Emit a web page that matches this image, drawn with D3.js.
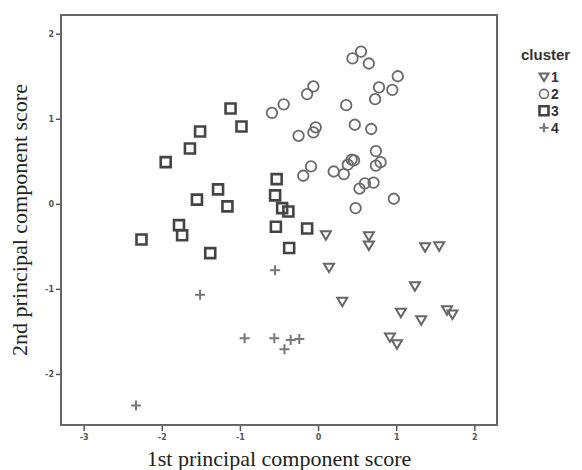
<!DOCTYPE html>
<meta charset="utf-8">
<style>
  body { margin: 0; background: #fff; }
  .tick text { font-family: "DejaVu Sans", sans-serif; font-size: 8px; font-weight: bold; fill: #555; }
  .tick line { stroke: #555; stroke-width: 1.5; }
  .axis .domain { display: none; }
</style>
<body>
<script src="https://d3js.org/d3.v7.min.js"></script>
<script>
// cluster 1 (triangles)
var c1x = [0.10, 0.65, 0.65, 1.37, 1.55, 0.14, 1.24, 0.31, 1.06, 1.32, 1.65, 1.72, 0.92, 1.01];
var c1y = [-0.37, -0.38, -0.49, -0.51, -0.50, -0.75, -0.97, -1.15, -1.28, -1.37, -1.25, -1.30, -1.57, -1.65];
// cluster 2 (circles)
var c2x = [0.44, 0.55, 0.65, 1.02, 0.78, 0.95, 0.73, -0.14, -0.06, -0.44, -0.59, 0.36, 0.47, 0.68, -0.25, -0.03,
           -0.06, -0.09, -0.19, 0.20, 0.33, 0.38, 0.43, 0.46, 0.74, 0.74, 0.80, 0.53, 0.60, 0.71, 0.48, 0.97];
var c2y = [1.71, 1.79, 1.65, 1.50, 1.37, 1.34, 1.23, 1.29, 1.38, 1.17, 1.07, 1.16, 0.93, 0.88, 0.80, 0.90,
           0.84, 0.44, 0.33, 0.38, 0.35, 0.46, 0.52, 0.51, 0.62, 0.45, 0.49, 0.18, 0.24, 0.25, -0.05, 0.06];
// cluster 3 (squares)
var c3x = [-1.12, -0.98, -1.51, -1.64, -1.95, -0.53, -1.28, -1.55, -1.16, -0.55, -0.46, -0.38, -1.78, -1.74, -2.26, -0.54, -0.14, -1.38, -0.37];
var c3y = [1.12, 0.91, 0.85, 0.65, 0.49, 0.29, 0.17, 0.05, -0.03, 0.10, -0.05, -0.09, -0.25, -0.37, -0.42, -0.27, -0.29, -0.58, -0.52];
// cluster 4 (plus)
var c4x = [-0.55, -1.51, -0.94, -0.56, -0.35, -0.24, -0.43, -2.33];
var c4y = [-0.78, -1.07, -1.58, -1.58, -1.60, -1.59, -1.71, -2.37];

var clusters = ["1", "2", "3", "4"];
var xTicks = [-3, -2, -1, 0, 1, 2];
var yTicks = [-2, -1, 0, 1, 2];

var W = 582, H = 470;
var margin = {left: 61, top: 15, right: 85, bottom: 45};
var iw = W - margin.left - margin.right, ih = H - margin.top - margin.bottom;

var svg = d3.select("body").append("svg").attr("width", W).attr("height", H);
var g = svg.append("g").attr("transform", "translate(" + margin.left + "," + margin.top + ")");

var x = d3.scaleLinear().domain([-3.29, 2.29]).range([0, iw]);
var y = d3.scaleLinear().domain([-2.6, 2.22]).range([ih, 0]);

g.append("g").attr("class", "axis")
    .attr("transform", "translate(0," + ih + ")")
    .call(d3.axisBottom(x).tickValues(xTicks).tickSize(6).tickPadding(3).tickFormat(String));
g.append("g").attr("class", "axis")
    .call(d3.axisLeft(y).tickValues(yTicks).tickSize(5).tickPadding(2).tickFormat(String));

g.append("rect")
    .attr("width", iw).attr("height", ih)
    .attr("fill", "none").attr("stroke", "#666").attr("stroke-width", 2);

function sym(type, cx, cy, s) {
  var h = s / 2;
  if (type === "1") {
    return "M" + (cx - h) + "," + (cy - h * 0.8) + "L" + (cx + h) + "," + (cy - h * 0.8) + "L" + cx + "," + (cy + h * 0.9) + "Z";
  } else if (type === "3") {
    return "M" + (cx - h) + "," + (cy - h) + "h" + s + "v" + s + "h" + (-s) + "Z";
  } else if (type === "4") {
    return "M" + (cx - h) + "," + cy + "h" + s + "M" + cx + "," + (cy - h) + "v" + s;
  }
  return null;
}

var styles = {
  "1": {color: "#666", width: 2, size: 10},
  "2": {color: "#6a6a6a", width: 1.8, size: 10.5},
  "3": {color: "#444", width: 2.6, size: 10},
  "4": {color: "#777", width: 2, size: 10}
};

function drawCluster(k, xs, ys) {
  var st = styles[k];
  var pts = xs.map(function(v, i) { return [v, ys[i]]; });
  var layer = g.append("g");
  if (k === "2") {
    layer.selectAll("circle").data(pts).enter().append("circle")
        .attr("cx", function(d) { return x(d[0]); })
        .attr("cy", function(d) { return y(d[1]); })
        .attr("r", st.size / 2)
        .attr("fill", "none").attr("stroke", st.color).attr("stroke-width", st.width);
  } else {
    layer.selectAll("path").data(pts).enter().append("path")
        .attr("d", function(d) { return sym(k, x(d[0]), y(d[1]), st.size); })
        .attr("fill", "none").attr("stroke", st.color).attr("stroke-width", st.width);
  }
}

drawCluster("2", c2x, c2y);
drawCluster("3", c3x, c3y);
drawCluster("1", c1x, c1y);
drawCluster("4", c4x, c4y);

// axis titles
svg.append("text")
    .attr("x", 279).attr("y", 466)
    .attr("text-anchor", "middle")
    .attr("font-family", "Liberation Serif, serif").attr("font-size", 22).attr("fill", "#222")
    .text("1st principal component score");
svg.append("text")
    .attr("transform", "translate(27,220) rotate(-90)")
    .attr("text-anchor", "middle")
    .attr("font-family", "Liberation Serif, serif").attr("font-size", 22).attr("fill", "#222")
    .text("2nd principal component score");

// legend
var lg = svg.append("g").attr("transform", "translate(521,0)");
lg.append("text").attr("x", 0).attr("y", 60)
    .attr("font-family", "Liberation Sans, Arial, sans-serif").attr("font-weight", "bold")
    .attr("font-size", 15).attr("fill", "#333").text("cluster");
var items = lg.selectAll("g.item").data(clusters).enter().append("g")
    .attr("transform", function(d, i) { return "translate(23," + (77 + i * 16.9) + ")"; });
items.each(function(k) {
  var st = styles[k], sel = d3.select(this);
  if (k === "2") {
    sel.append("circle").attr("r", 4.5).attr("fill", "none").attr("stroke", st.color).attr("stroke-width", 1.6);
  } else {
    sel.append("path").attr("d", sym(k, 0, 0, 9)).attr("fill", "none").attr("stroke", st.color).attr("stroke-width", st.width);
  }
});
items.append("text").attr("x", 7).attr("y", 5)
    .attr("font-family", "Liberation Sans, Arial, sans-serif").attr("font-weight", "bold")
    .attr("font-size", 14).attr("fill", "#333").text(function(d) { return d; });
</script>
</body>
